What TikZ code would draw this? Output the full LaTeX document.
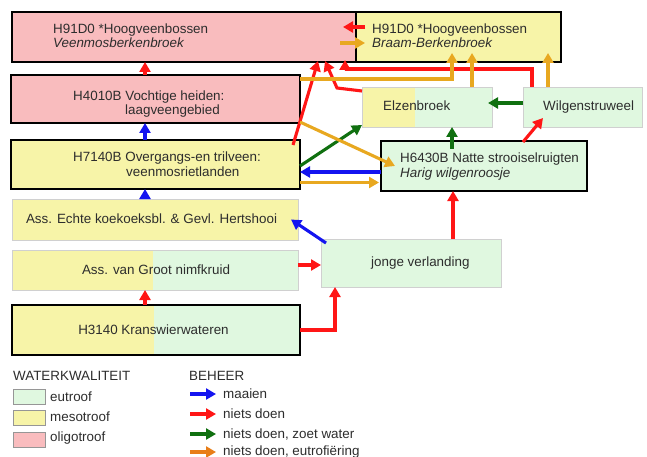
\documentclass[tikz,border=0pt]{standalone}
\usepackage{fontspec}
\setmainfont{Liberation Sans}
\usetikzlibrary{arrows.meta}
\definecolor{pinkf}{RGB}{249,188,190}
\definecolor{yelf}{RGB}{247,244,168}
\definecolor{grnf}{RGB}{224,248,224}
\definecolor{edgeg}{RGB}{208,208,208}
\definecolor{legedge}{RGB}{150,150,150}
\definecolor{txt}{RGB}{45,45,45}
\definecolor{ared}{RGB}{255,22,22}
\definecolor{ablue}{RGB}{20,20,240}
\definecolor{agreen}{RGB}{16,112,16}
\definecolor{agold}{RGB}{232,168,32}
\definecolor{aorange}{RGB}{232,126,24}
\begin{document}
\begin{tikzpicture}[x=1pt,y=-1pt,
  font=\fontsize{13.4}{16}\selectfont,
  hbox/.style={draw=black, line width=2.8pt, inner sep=0pt, outer sep=0pt},
  lbox/.style={draw=edgeg, line width=0.8pt, inner sep=0pt, outer sep=0pt},
  split/.style={path picture={\fill[yelf] (path picture bounding box.south west) rectangle ([xshift=#1]path picture bounding box.north west);}},
  lab/.style={anchor=base west, inner sep=0pt, text=txt},
  clab/.style={anchor=base, inner sep=0pt, text=txt},
  arr/.style={line width=3.1pt, -{Triangle[length=10pt,width=11pt]}},
  legbox/.style={draw=legedge, line width=0.8pt, minimum width=32pt, minimum height=15pt, inner sep=0pt}
]
\useasboundingbox (0,0) rectangle (647,457);
\fill[white] (0,0) rectangle (647,457);

% boxes
\node[hbox, fill=yelf, minimum width=205pt, minimum height=50pt] (braam) at (458.5,37) {};
\node[hbox, fill=pinkf, minimum width=344pt, minimum height=50pt] (veen) at (184,37) {};
\node[hbox, fill=pinkf, minimum width=289pt, minimum height=48pt] (h4010) at (155.5,99) {};
\node[lbox, fill=grnf, split=53pt, minimum width=130pt, minimum height=40pt] (elz) at (427,107) {};
\node[lbox, fill=grnf, minimum width=119pt, minimum height=40pt] (wilg) at (582.5,107) {};
\node[hbox, fill=yelf, minimum width=289pt, minimum height=49pt] (h7140) at (155.5,164.5) {};
\node[hbox, fill=grnf, minimum width=206pt, minimum height=50pt] (h6430) at (484,166) {};
\node[lbox, fill=yelf, minimum width=286pt, minimum height=41pt] (echte) at (155,219.5) {};
\node[lbox, fill=grnf, split=141pt, minimum width=286pt, minimum height=40pt] (groot) at (155,270) {};
\node[lbox, fill=grnf, minimum width=180pt, minimum height=48pt] (jonge) at (411,263) {};
\node[hbox, fill=grnf, split=142pt, minimum width=288pt, minimum height=50pt] (h3140) at (156,330) {};

% texts
\node[lab] (t1a) at (53,34) {H91D0 *Hoogveenbossen};
\node[lab] (t1b) at (53,48) {\itshape Veenmosberkenbroek};
\node[lab] (t2a) at (372,34) {H91D0 *Hoogveenbossen};
\node[lab] (t2b) at (372,48) {\itshape Braam-Berkenbroek};
\node[lab] (t3a) at (73,101) {H4010B Vochtige heiden:};
\node[lab] (t3b) at (125,115) {laagveengebied};
\node[lab] (t4) at (383,111) {Elzenbroek};
\node[lab] (t5) at (543,111) {Wilgenstruweel};
\node[lab] (t6a) at (73,162) {H7140B Overgangs-en trilveen:};
\node[lab] (t6b) at (126,176) {veenmosrietlanden};
\node[lab] (t7a) at (400,163) {H6430B Natte strooiselruigten};
\node[lab] (t7b) at (400,177) {\itshape Harig wilgenroosje};
\node[clab] (t8) at (151.5,223) {Ass. Echte koekoeksbl. \& Gevl. Hertshooi};
\node[clab] (t9) at (156,274) {Ass. van Groot nimfkruid};
\node[lab] (t10) at (371,266) {jonge verlanding};
\node[clab] (t11) at (153.5,334) {H3140 Kranswierwateren};

% blue arrows (maaien)
\draw[arr, ablue] ([xshift=134pt]h7140.north west) -- ([xshift=134pt]h4010.south west);
\draw[arr, ablue] ([xshift=133pt]echte.north west) -- ([xshift=134pt]h7140.south west);
\draw[arr, ablue] ([xshift=5pt,yshift=-4pt]jonge.north west) -- ([xshift=-7pt]echte.east);
\draw[arr, ablue] ([yshift=-6pt]h6430.west) -- ([yshift=-7.5pt]h7140.east);

% red arrows (niets doen)
\draw[arr, ared] ([xshift=134pt]h4010.north west) -- ([xshift=133pt]veen.south west);
\draw[arr, ared] ([xshift=133pt]h3140.north west) -- ([xshift=133pt]groot.south west);
\draw[arr, ared] ([yshift=5pt]groot.east) -- ([yshift=-2pt]jonge.west);
\draw[arr, ared] (h3140.east) -| ([xshift=14pt]jonge.south west);
\draw[arr, ared] ([xshift=132pt]jonge.north west) -- ([xshift=72pt]h6430.south west);
\draw[arr, ared] ([xshift=142pt,yshift=-1pt]h6430.north west) -- ([xshift=20pt,yshift=9pt]wilg.south west);
\draw[arr, ared] ([xshift=-7pt,yshift=-5pt]h7140.north east) -- ([xshift=306pt,yshift=1pt]veen.south west);
\draw[arr, ared] ([yshift=-4pt]elz.north west) -- ++(-25,-3) -- ([xshift=313pt,yshift=1pt]veen.south west);
\draw[arr, ared] ([xshift=9pt]wilg.north west) -- ++(0,-18) -| ([xshift=333pt,yshift=2pt]veen.south west);
\draw[arr, ared] ([xshift=9pt,yshift=10pt]braam.west) -- ([xshift=-13pt,yshift=10pt]veen.east);

% green arrows (niets doen, zoet water)
\draw[arr, agreen] ([yshift=4pt]wilg.west) -- ([xshift=-4pt,yshift=4pt]elz.east);
\draw[arr, agreen] ([xshift=71pt,yshift=-8pt]h6430.north west) -- ([xshift=90pt]elz.south west);
\draw[arr, agreen] ([yshift=-1.5pt]h7140.east) -- ([yshift=2pt]elz.south west);

% gold arrows (niets doen, eutrofiering)
\draw[arr, agold] ([xshift=-16pt,yshift=-6pt]veen.east) -- ([xshift=9pt,yshift=-6pt]braam.west);
\draw[arr, agold] ([yshift=-4pt]h4010.north east) -| ([xshift=96pt,yshift=9pt]braam.south west);
\draw[arr, agold] ([xshift=110pt]elz.north west) -- ([xshift=116pt,yshift=9pt]braam.south west);
\draw[arr, agold] ([xshift=25pt]wilg.north west) -- ([xshift=192pt,yshift=9pt]braam.south west);
\draw[arr, agold] ([yshift=1pt]h4010.south east) -- ([xshift=14pt]h6430.west);
\draw[arr, agold] ([yshift=6.5pt]h7140.south east) -- ([xshift=-2pt,yshift=8.5pt]h6430.south west);

% legend
\node[lab] (lw) at (13,380) {WATERKWALITEIT};
\node[legbox, fill=grnf] (le) at (29,396.5) {};
\node[legbox, fill=yelf] (lm) at (29,417.5) {};
\node[legbox, fill=pinkf] (lo) at (29,439.5) {};
\node[lab] (let) at (50,401) {eutroof};
\node[lab] (lmt) at (50,421) {mesotroof};
\node[lab] (lot) at (50,441) {oligotroof};
\node[lab] (lb) at (189,380) {BEHEER};
\coordinate (a1s) at (190,394); \coordinate (a1e) at (216,394);
\coordinate (a2s) at (190,414); \coordinate (a2e) at (216,414);
\coordinate (a3s) at (190,434); \coordinate (a3e) at (216,434);
\coordinate (a4s) at (190,452); \coordinate (a4e) at (216,452);
\draw[arr, ablue] (a1s) -- (a1e);
\draw[arr, ared] (a2s) -- (a2e);
\draw[arr, agreen] (a3s) -- (a3e);
\draw[arr, aorange] (a4s) -- (a4e);
\node[lab] (lt1) at (223,398) {maaien};
\node[lab] (lt2) at (223,418) {niets doen};
\node[lab] (lt3) at (223,438) {niets doen, zoet water};
\node[lab] (lt4) at (223,455) {niets doen, eutrofiëring};
\end{tikzpicture}
\end{document}
